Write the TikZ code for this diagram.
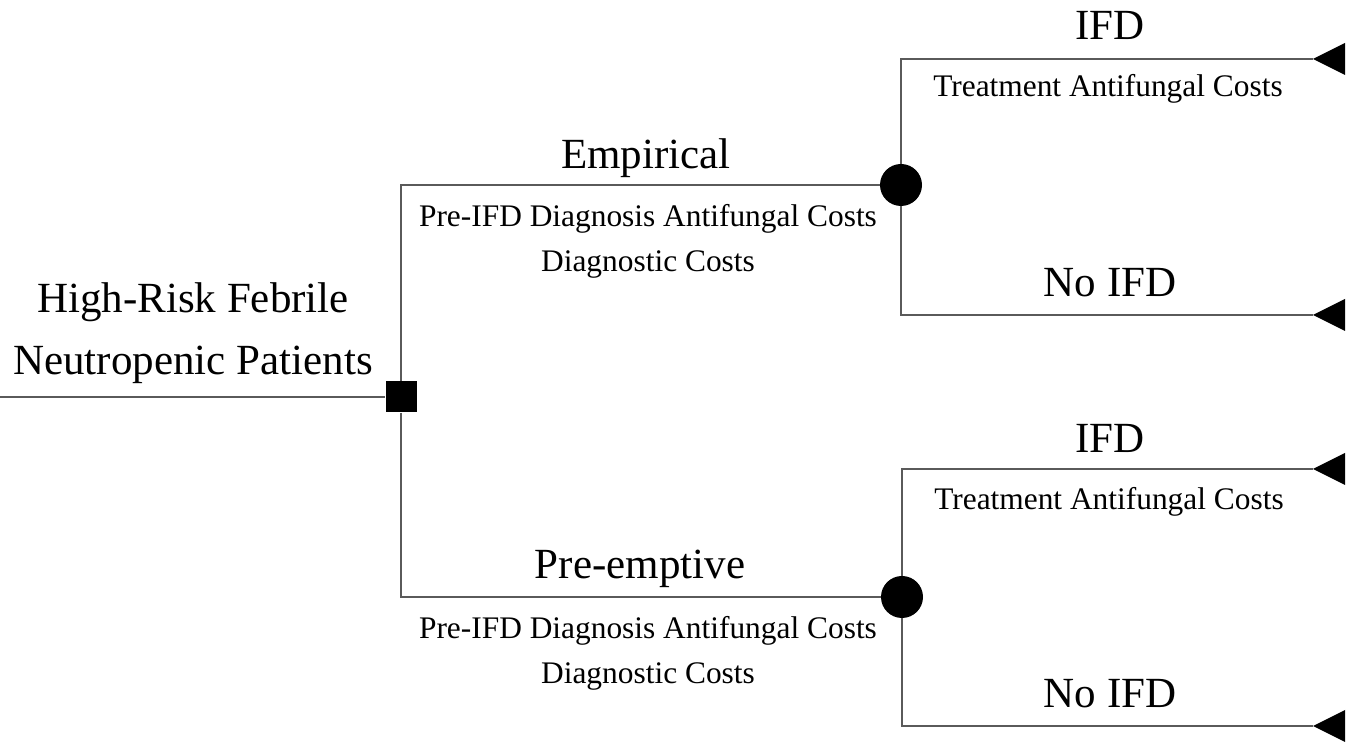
\documentclass[tikz,border=0pt]{standalone}
\usepackage{fontspec}
\setmainfont{Liberation Serif}
\usepackage{tikz}
\definecolor{linegray}{RGB}{90, 90, 90}
\tikzset{
    branch/.style={draw=linegray, line width=0.6pt},
    decision/.style={rectangle, fill=black, minimum size=15.5pt, inner sep=0pt},
    chance/.style={circle, fill=black, minimum size=21pt, inner sep=0pt},
    biglabel/.style={anchor=base, font=\fontsize{21.5pt}{24pt}\selectfont, inner sep=0pt},
    costlabel/.style={anchor=base, font=\fontsize{15.7pt}{18pt}\selectfont, inner sep=0pt}
}
\newcommand{\terminal}[1]{\fill (#1) -- ++(32,-16) -- ++(0,32) -- cycle;}

\begin{document}
\begin{tikzpicture}[x=0.5pt, y=-0.5pt]
    \useasboundingbox (0,0) rectangle (1346,742);

    % tree nodes
    \coordinate (start) at (0,397);
    \node[decision] (dec) at (401,397) {};
    \node[chance] (chEmp) at (901,185) {};
    \node[chance] (chPre) at (902,597) {};
    \coordinate (tEmpIFD) at (1313,59);
    \coordinate (tEmpNo) at (1313,315);
    \coordinate (tPreIFD) at (1313,469);
    \coordinate (tPreNo) at (1313,726);

    % branches
    \draw[branch] (start) -- (dec.west);
    \draw[branch] (dec.north) |- (chEmp.west);
    \draw[branch] (dec.south) |- (chPre.west);
    \draw[branch] (chEmp.north) |- (tEmpIFD);
    \draw[branch] (chEmp.south) |- (tEmpNo);
    \draw[branch] (chPre.north) |- (tPreIFD);
    \draw[branch] (chPre.south) |- (tPreNo);

    % terminal markers
    \terminal{tEmpIFD}
    \terminal{tEmpNo}
    \terminal{tPreIFD}
    \terminal{tPreNo}

    % labels
    \node[biglabel] (patients1) at (193,313) {High-Risk Febrile};
    \node[biglabel] (patients2) at (193,375) {Neutropenic Patients};

    \node[biglabel] (empLbl) at (646,169) {Empirical};
    \node[costlabel] (empCost1) at (648,227) {Pre-IFD Diagnosis Antifungal Costs};
    \node[costlabel] (empCost2) at (648,272) {Diagnostic Costs};

    \node[biglabel] (preLbl) at (640,579) {Pre-emptive};
    \node[costlabel] (preCost1) at (648,639) {Pre-IFD Diagnosis Antifungal Costs};
    \node[costlabel] (preCost2) at (648,684) {Diagnostic Costs};

    \node[biglabel] (empIFD) at (1110,40) {IFD};
    \node[costlabel] (empTreat) at (1108,97) {Treatment Antifungal Costs};
    \node[biglabel] (empNo) at (1110,297) {No IFD};

    \node[biglabel] (preIFD) at (1110,453) {IFD};
    \node[costlabel] (preTreat) at (1109,510) {Treatment Antifungal Costs};
    \node[biglabel] (preNo) at (1110,708) {No IFD};
\end{tikzpicture}
\end{document}
